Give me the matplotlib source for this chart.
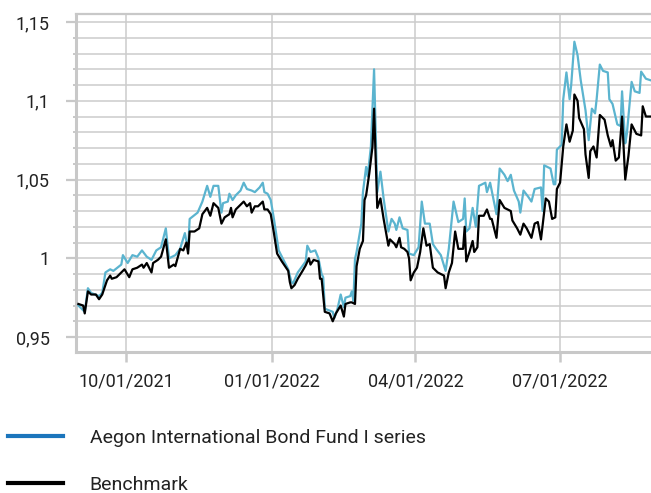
import matplotlib
matplotlib.use("Agg")
import matplotlib.pyplot as plt
from matplotlib.lines import Line2D
from matplotlib.ticker import MultipleLocator, FuncFormatter
import numpy as np
import pandas as pd

BASE_DATE = "2021-09-01"

# Aegon International Bond Fund I series: (days since 2021-09-01, value)
fund_days = [0, 3, 4, 6, 8, 13, 15, 17, 20, 22, 27, 28, 31, 34, 37, 40, 43, 46, 49, 52,
             55, 57, 61, 64, 67, 69, 70, 75, 78, 81, 83, 85, 88, 90, 91, 94, 95, 97, 99, 102,
             104, 106, 109, 111, 114, 116, 117, 119, 121, 123, 126, 129, 132, 134, 135, 138, 143, 144, 146, 149,
             151, 153, 154, 155, 160, 161, 163, 165, 167, 168, 171, 172, 173, 174, 175, 177, 178, 179, 181, 182,
             184, 186, 188, 190, 192, 195, 197, 199, 200, 202, 204, 207, 208, 211, 214, 216, 218, 221, 223, 225,
             228, 231, 233, 236, 239, 242, 243, 244, 246, 248, 250, 252, 256, 257, 259, 263, 265, 268, 270, 272,
             274, 277, 278, 280, 283, 285, 287, 291, 292, 293, 297, 299, 300, 301, 304, 305, 307, 309, 310, 312,
             314, 316, 319, 321, 323, 325, 326, 328, 330, 333, 334, 336, 339, 341, 342, 344, 345, 348, 350, 353,
             354, 357, 360]
fund_values = [0.970, 0.967, 0.966, 0.981, 0.978, 0.976, 0.978, 0.991, 0.993, 0.992, 0.996, 1.002, 0.997, 1.002, 1.001, 1.005, 1.001, 0.999, 1.005, 1.007,
               1.019, 1.000, 1.002, 1.006, 1.016, 1.005, 1.025, 1.029, 1.036, 1.046, 1.039, 1.046, 1.046, 1.029, 1.035, 1.036, 1.041, 1.037, 1.040, 1.043,
               1.048, 1.044, 1.043, 1.042, 1.045, 1.048, 1.042, 1.041, 1.037, 1.025, 1.005, 0.999, 0.993, 0.985, 0.984, 0.991, 0.998, 1.008, 1.004, 1.005,
               1.000, 0.990, 0.988, 0.968, 0.966, 0.962, 0.968, 0.977, 0.969, 0.975, 0.976, 0.979, 0.973, 0.9995, 1.004, 1.016, 1.022, 1.042, 1.058, 1.052,
               1.071, 1.120, 1.042, 1.055, 1.038, 1.017, 1.025, 1.022, 1.018, 1.026, 1.019, 1.018, 1.003, 1.002, 1.007, 1.036, 1.022, 1.022, 1.009, 1.006,
               1.002, 0.992, 1.006, 1.036, 1.023, 1.025, 1.038, 1.017, 1.019, 1.032, 1.020, 1.046, 1.048, 1.042, 1.048, 1.028, 1.057, 1.053, 1.049, 1.053,
               1.043, 1.036, 1.029, 1.043, 1.039, 1.036, 1.044, 1.045, 1.030, 1.059, 1.057, 1.047, 1.047, 1.069, 1.072, 1.101, 1.118, 1.101, 1.110, 1.1375,
               1.129, 1.113, 1.094, 1.075, 1.095, 1.092, 1.101, 1.123, 1.119, 1.118, 1.101, 1.098, 1.085, 1.084, 1.106, 1.073, 1.079, 1.112, 1.106, 1.105,
               1.1185, 1.114, 1.113]

# Benchmark: (days since 2021-09-01, value)
bench_days = [0, 3, 4, 6, 8, 11, 13, 15, 18, 20, 21, 24, 27, 29, 32, 34, 37, 40, 41, 43,
              46, 47, 50, 52, 55, 57, 60, 61, 64, 66, 68, 69, 70, 73, 76, 78, 81, 83, 85, 88,
              90, 92, 95, 96, 97, 99, 102, 104, 106, 108, 109, 111, 113, 116, 117, 119, 121, 123, 125, 128,
              130, 132, 133, 134, 136, 138, 141, 143, 145, 146, 148, 151, 152, 153, 155, 158, 160, 162, 165, 167,
              168, 171, 172, 174, 175, 177, 179, 180, 181, 183, 185, 186, 188, 190, 192, 195, 196, 199, 200, 202,
              203, 205, 207, 208, 209, 211, 213, 215, 217, 219, 221, 223, 226, 230, 231, 233, 235, 237, 239, 242,
              243, 244, 246, 248, 249, 251, 252, 255, 257, 259, 260, 263, 265, 268, 272, 273, 276, 278, 280, 282,
              285, 287, 289, 291, 294, 296, 298, 300, 301, 303, 305, 307, 309, 311, 312, 314, 315, 318, 319, 321,
              322, 324, 326, 328, 331, 333, 335, 336, 338, 340, 342, 344, 346, 348, 351, 354, 355, 357, 360]
bench_values = [0.971, 0.970, 0.965, 0.979, 0.977, 0.977, 0.974, 0.977, 0.986, 0.989, 0.987, 0.988, 0.991, 0.993, 0.988, 0.993, 0.994, 0.996, 0.994, 0.997,
                0.991, 0.997, 0.999, 1.001, 1.012, 0.994, 0.996, 0.995, 1.006, 1.005, 1.010, 1.003, 1.017, 1.017, 1.019, 1.028, 1.032, 1.027, 1.035, 1.032,
                1.022, 1.026, 1.028, 1.032, 1.026, 1.031, 1.034, 1.036, 1.033, 1.035, 1.029, 1.033, 1.033, 1.036, 1.031, 1.031, 1.028, 1.016, 1.003, 0.998,
                0.995, 0.992, 0.985, 0.981, 0.983, 0.987, 0.992, 0.9955, 1.000, 0.996, 0.999, 0.998, 0.987, 0.987, 0.966, 0.965, 0.960, 0.965, 0.970, 0.963,
                0.971, 0.972, 0.972, 0.971, 0.995, 1.006, 1.011, 1.037, 1.040, 1.054, 1.071, 1.095, 1.032, 1.038, 1.025, 1.008, 1.012, 1.009, 1.007, 1.013,
                1.007, 1.006, 1.004, 1.000, 0.986, 0.991, 0.994, 1.004, 1.019, 1.008, 1.009, 0.994, 0.991, 0.989, 0.981, 0.991, 0.997, 1.017, 1.006, 1.006,
                1.020, 0.998, 1.004, 1.011, 1.004, 1.007, 1.027, 1.027, 1.031, 1.025, 1.025, 1.013, 1.037, 1.032, 1.030, 1.024, 1.019, 1.015, 1.022, 1.019,
                1.013, 1.022, 1.023, 1.012, 1.038, 1.036, 1.025, 1.026, 1.044, 1.048, 1.071, 1.085, 1.074, 1.081, 1.104, 1.100, 1.089, 1.082, 1.066, 1.051,
                1.068, 1.071, 1.064, 1.091, 1.088, 1.078, 1.071, 1.075, 1.062, 1.064, 1.090, 1.050, 1.065, 1.085, 1.079, 1.078, 1.0965, 1.090, 1.090]

series_labels = ["Aegon International Bond Fund I series", "Benchmark"]
x_ticks = ["2021-10-01", "2022-01-01", "2022-04-01", "2022-07-01"]

FONT = ["Roboto", "DejaVu Sans"]
plt.rcParams["font.family"] = FONT

base = pd.Timestamp(BASE_DATE)
fund_dates = base + pd.to_timedelta(fund_days, unit="D")
bench_dates = base + pd.to_timedelta(bench_days, unit="D")

fig = plt.figure(figsize=(6.51, 4.93), dpi=100)
ax = fig.add_axes([76 / 651, 1 - 352 / 493, 1 - 76 / 651, (352 - 14) / 493])

grid_c = "#cccccc"
ax.plot(fund_dates, fund_values, color="#5bb4cf", lw=1.6, zorder=3)
ax.plot(bench_dates, bench_values, color="#000000", lw=1.6, zorder=4)

ax.set_xlim(base - pd.Timedelta(days=1.5), base + pd.Timedelta(days=360.2))
ax.set_ylim(0.9405, 1.1551)

ax.yaxis.set_major_locator(MultipleLocator(0.05))
ax.yaxis.set_minor_locator(MultipleLocator(0.01))

def yfmt(v, pos):
    s = f"{v:.2f}".rstrip("0").rstrip(".")
    return s.replace(".", ",")
ax.yaxis.set_major_formatter(FuncFormatter(yfmt))

xt = pd.to_datetime(x_ticks)
ax.set_xticks(xt)
ax.set_xticklabels([d.strftime("%m/%d/%Y") for d in xt])

ax.grid(True, which="both", axis="y", color=grid_c, lw=1.1, zorder=0)
ax.grid(True, which="major", axis="x", color=grid_c, lw=1.1, zorder=0)
ax.set_axisbelow(True)

ax.spines["right"].set_visible(False)
for side in ["left", "bottom", "top"]:
    ax.spines[side].set_color("#c8c8c8")
    ax.spines[side].set_linewidth(2.2)
ax.spines["top"].set_linewidth(1.6)

ax.tick_params(axis="y", which="major", length=7, width=1.6, color="#c8c8c8",
               labelsize=13, labelcolor="#222222", pad=12)
ax.tick_params(axis="y", which="minor", length=2.5, width=1.4, color="#c8c8c8")
ax.tick_params(axis="x", which="major", length=7, width=1.8, color="#c8c8c8",
               labelsize=13, labelcolor="#222222", pad=8)

handles = [Line2D([], [], color="#1b75bc", lw=3),
           Line2D([], [], color="#000000", lw=3)]
fig.legend(handles, series_labels, loc="upper left",
           bbox_to_anchor=(8 / 651, 1 - 429 / 493), frameon=False,
           fontsize=14, handlelength=2.85, handletextpad=1.35,
           labelspacing=1.5, borderpad=0, borderaxespad=0,
           labelcolor="#222222")

fig.savefig("out.png", dpi=100)
